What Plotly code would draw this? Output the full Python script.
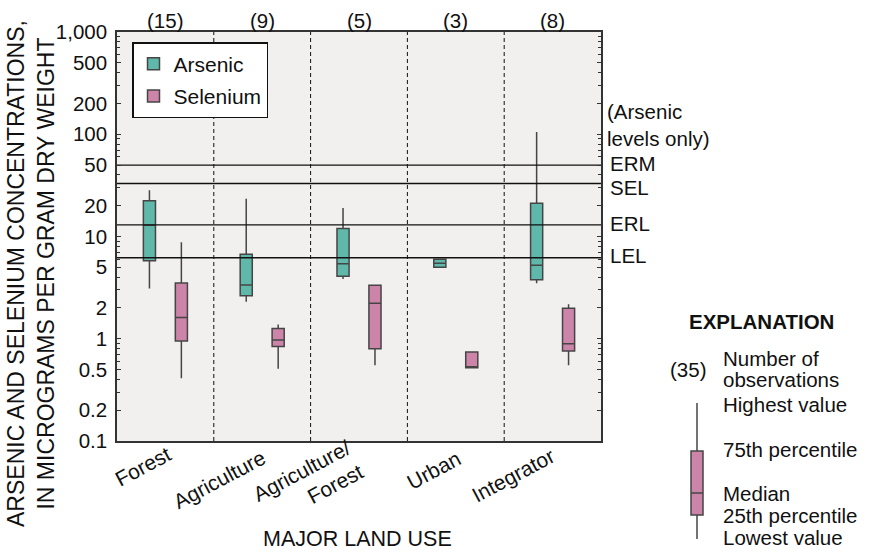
import plotly.graph_objects as go
import math

# ---------------- data ----------------
categories = ["Forest", "Agriculture", "Agriculture/<br>Forest", "Urban", "Integrator"]
counts = ["(15)", "(9)", "(5)", "(3)", "(8)"]

arsenic_low = [3.1, 2.3, 3.84, 5.0, 3.48]
arsenic_q1 = [5.8, 2.64, 4.08, 5.0, 3.78]
arsenic_med = [12.9, 3.36, 5.42, 5.47, 5.23]
arsenic_q3 = [22.4, 6.7, 12.0, 5.98, 21.1]
arsenic_high = [28.3, 23.4, 19.0, 5.98, 105]

selenium_low = [0.41, 0.51, 0.55, 0.52, 0.55]
selenium_q1 = [0.95, 0.84, 0.80, 0.52, 0.76]
selenium_med = [1.61, 0.97, 2.22, 0.52, 0.895]
selenium_q3 = [3.5, 1.26, 3.33, 0.74, 1.99]
selenium_high = [8.8, 1.38, 3.33, 0.74, 2.17]

level_names = ["ERM", "SEL", "ERL", "LEL"]
level_values = [50, 33, 13, 6.2]
level_label_shift = [2, -4, 1, 2]

ytick_vals = [0.1, 0.2, 0.5, 1, 2, 5, 10, 20, 50, 100, 200, 500, 1000]
ytick_text = ["0.1", "0.2", "0.5", "1", "2", "5", "10", "20", "50", "100", "200", "500", "1,000"]

# explanation box (schematic units)
expl_low, expl_q1, expl_med, expl_q3, expl_high = 0, 24, 46, 88, 136
expl_labels = ["Highest value", "75th percentile", "Median", "25th percentile", "Lowest value"]

# ---------------- style ----------------
FONT = "Liberation Sans, Arial, sans-serif"
TEAL = "#5fb8a9"
PINK = "#cc84a9"
EDGE = "#454545"
W, H = 873, 552
PX0, PX1, PY0, PY1 = 117, 601, 32, 441  # plot area in pixels

def px(x):
    return x / W

def py(y):
    return 1 - y / H

offset = 0.165
box_w = 0.125
centers = [i + 0.5 for i in range(len(categories))]

fig = go.Figure()

# divider lines between land-use groups
for i in range(1, len(categories)):
    fig.add_trace(go.Scatter(x=[i, i], y=[0.1, 1000], mode="lines",
                             line=dict(color="#111", width=1, dash="4px,3px"),
                             showlegend=False, hoverinfo="skip"))

# sediment-quality guideline levels
for v in level_values:
    fig.add_trace(go.Scatter(x=[0, 5], y=[v, v], mode="lines",
                             line=dict(color="#111", width=1.3),
                             showlegend=False, hoverinfo="skip"))

fig.add_trace(go.Box(
    name="Arsenic", x=[c - offset for c in centers],
    lowerfence=arsenic_low, q1=arsenic_q1, median=arsenic_med,
    q3=arsenic_q3, upperfence=arsenic_high,
    width=box_w, whiskerwidth=0, boxpoints=False,
    fillcolor=TEAL, line=dict(color=EDGE, width=1.5),
    legendgroup="a", xaxis="x", yaxis="y"))

fig.add_trace(go.Box(
    name="Selenium", x=[c + offset for c in centers],
    lowerfence=selenium_low, q1=selenium_q1, median=selenium_med,
    q3=selenium_q3, upperfence=selenium_high,
    width=box_w, whiskerwidth=0, boxpoints=False,
    fillcolor=PINK, line=dict(color=EDGE, width=1.5),
    legendgroup="b", xaxis="x", yaxis="y"))

# explanation schematic box
fig.add_trace(go.Box(
    name="Explanation", x=[0.5],
    lowerfence=[expl_low], q1=[expl_q1], median=[expl_med],
    q3=[expl_q3], upperfence=[expl_high],
    width=0.3, whiskerwidth=0, boxpoints=False,
    fillcolor=PINK, line=dict(color=EDGE, width=1.5),
    showlegend=False, xaxis="x2", yaxis="y2"))

minor_vals = []
for d in [0.1, 1, 10, 100]:
    for m in [3, 4, 6, 7, 8, 9]:
        minor_vals.append(round(d * m, 6))

annotations = []
# counts on top
for c, n in zip(centers, counts):
    annotations.append(dict(x=c, xref="x", y=py(20), yref="paper", text=n,
                            showarrow=False, font=dict(size=20.5),
                            xanchor="center", yanchor="middle"))

# rotated category labels
cat_centers = [(142.5, 466), (219, 479), (307.5, 483), (433, 470), (512.5, 475)]
for t, (cx, cy) in zip(categories, cat_centers):
    annotations.append(dict(x=px(cx), y=py(cy), xref="paper", yref="paper",
                            text=t, textangle=-28, showarrow=False,
                            font=dict(size=21), align="right",
                            xanchor="center", yanchor="middle"))

# level labels
for name, v, s in zip(level_names, level_values, level_label_shift):
    annotations.append(dict(x=px(608), xref="paper", y=math.log10(v), yref="y",
                            text=name, showarrow=False, font=dict(size=20.5),
                            xanchor="left", yanchor="middle", yshift=s))
annotations.append(dict(x=px(605), xref="paper", y=py(124.5), yref="paper",
                        text="(Arsenic<br>levels only)", showarrow=False,
                        font=dict(size=20.5), align="left",
                        xanchor="left", yanchor="middle"))

# axis titles
annotations.append(dict(x=px(31), y=py(274), xref="paper", yref="paper",
                        text="ARSENIC AND SELENIUM CONCENTRATIONS,<br>IN MICROGRAMS PER GRAM DRY WEIGHT",
                        textangle=-90, showarrow=False, font=dict(size=23),
                        xanchor="center", yanchor="middle"))
annotations.append(dict(x=px(357.5), y=py(539), xref="paper", yref="paper",
                        text="MAJOR LAND USE", showarrow=False, font=dict(size=21.5),
                        xanchor="center", yanchor="middle"))

# explanation
annotations.append(dict(x=px(761), y=py(321), xref="paper", yref="paper",
                        text="<b>EXPLANATION</b>", showarrow=False, font=dict(size=20.5),
                        xanchor="center", yanchor="middle"))
annotations.append(dict(x=px(708), y=py(369), xref="paper", yref="paper",
                        text="(35)", showarrow=False, font=dict(size=20.5),
                        xanchor="right", yanchor="middle"))
annotations.append(dict(x=px(721), y=py(358), xref="paper", yref="paper",
                        text="Number of", showarrow=False, font=dict(size=20.5),
                        xanchor="left", yanchor="middle"))
annotations.append(dict(x=px(721), y=py(379), xref="paper", yref="paper",
                        text="observations", showarrow=False, font=dict(size=20.5),
                        xanchor="left", yanchor="middle"))
for t, yy in zip(expl_labels, [404, 449, 493, 515, 537]):
    annotations.append(dict(x=px(721), y=py(yy), xref="paper", yref="paper",
                            text=t, showarrow=False, font=dict(size=20.5),
                            xanchor="left", yanchor="middle"))

fig.update_layout(
    width=W, height=H,
    margin=dict(l=0, r=0, t=0, b=0, autoexpand=False),
    paper_bgcolor="white",
    plot_bgcolor="rgba(0,0,0,0)",
    font=dict(family=FONT, size=20, color="#111"),
    boxmode="overlay",
    showlegend=True,
    legend=dict(x=px(132), y=py(42), xanchor="left", yanchor="top",
                bgcolor="white", bordercolor="#111", borderwidth=1.5,
                font=dict(size=21), traceorder="grouped", tracegroupgap=2,
                itemwidth=30),
    shapes=[dict(type="rect", xref="x domain", yref="y domain",
                 x0=0, x1=1, y0=0, y1=1, fillcolor="#f1f0ee",
                 line=dict(width=0), layer="below")],
    xaxis=dict(domain=[px(PX0), px(PX1)], range=[0, 5], showticklabels=False,
               ticks="", showgrid=False, zeroline=False, showline=True,
               mirror=True, linecolor="#333", linewidth=1.5, fixedrange=True,
               automargin=False),
    yaxis=dict(domain=[py(PY1), py(PY0)], type="log", range=[-1, 3],
               tickvals=ytick_vals, ticktext=ytick_text, ticks="inside",
               ticklen=4, tickcolor="#333", mirror="allticks", showline=True,
               linecolor="#333", linewidth=1.5, showgrid=False, zeroline=False,
               tickfont=dict(size=20.5), ticklabelstandoff=4, automargin=False,
               minor=dict(tickvals=minor_vals, ticks="inside", ticklen=3,
                          tickcolor="#333", showgrid=False)),
    xaxis2=dict(domain=[px(677), px(717)], range=[0, 1], visible=False,
                anchor="y2", fixedrange=True, automargin=False),
    yaxis2=dict(domain=[py(539), py(403)], range=[0, 136], visible=False,
                anchor="x2", fixedrange=True, automargin=False),
    annotations=annotations,
)

fig.write_html("out.html", config={"displayModeBar": False},
               post_script="document.body.style.margin='0';document.body.style.overflow='hidden';")
